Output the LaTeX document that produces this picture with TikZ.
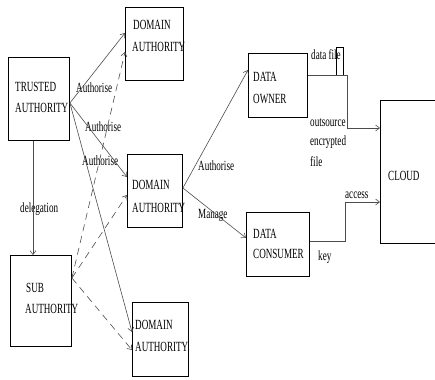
\documentclass[tikz,border=0pt]{standalone}
\usepackage{fontspec}
\setmainfont{Liberation Serif}[FakeStretch=0.65]
\usetikzlibrary{arrows.meta,calc}
\begin{document}
\begin{tikzpicture}[x=1pt,y=-1pt,
  box/.style={draw=black,line width=0.9pt,inner sep=0,anchor=north west},
  lbl/.style={inner sep=0,anchor=base west,font=\fontsize{14}{21}\selectfont},
  conn/.style={draw=black!70,line width=0.6pt,-{Straight Barb[length=4pt,width=6pt]}},
  dconn/.style={conn,dash pattern=on 7pt off 5pt}]
\useasboundingbox (0,0) rectangle (435,379);
% boxes
\node[box,minimum width=61,minimum height=83] (ta) at (8,57) {};
\node[box,minimum width=58,minimum height=73] (da1) at (125,7) {};
\node[box,minimum width=55,minimum height=73] (da2) at (127,154) {};
\node[box,minimum width=61,minimum height=91] (sub) at (10,255) {};
\node[box,minimum width=56,minimum height=74] (da3) at (132,302) {};
\node[box,minimum width=59,minimum height=64] (do) at (248,53) {};
\node[box,minimum width=63,minimum height=64] (dc) at (246,212) {};
\node[inner sep=0,minimum width=55,minimum height=143,anchor=north west] (cloud) at (380,100) {};
\draw[black,line width=0.9pt] (cloud.north east) -- (cloud.north west) -- (cloud.south west) -- (cloud.south east);
\node[box,line width=0.6pt,minimum width=7,minimum height=28] (fr) at (336,47) {};
\draw[line width=1.6pt] (fr.south west) -- (fr.south east);
% texts
\node[lbl] (t1) at (15,92) {TRUSTED};
\node[lbl] (t2) at (15,113) {AUTHORITY};
\node[lbl] (d1a) at (133,30) {DOMAIN};
\node[lbl] (d1b) at (132,52) {AUTHORITY};
\node[lbl] (d2a) at (132,189) {DOMAIN};
\node[lbl] (d2b) at (132,212) {AUTHORITY};
\node[lbl] (s1) at (26,292) {SUB};
\node[lbl] (s2) at (25,313) {AUTHORITY};
\node[lbl] (d3a) at (135,329) {DOMAIN};
\node[lbl] (d3b) at (135,351) {AUTHORITY};
\node[lbl] (o1) at (253,82) {DATA};
\node[lbl] (o2) at (253,104) {OWNER};
\node[lbl] (c1) at (253,238) {DATA};
\node[lbl] (c2) at (253,258) {CONSUMER};
\node[lbl] (cl) at (388,180) {CLOUD};
\node[lbl] (df) at (311,60) {data file};
\node[lbl] (ou1) at (310,127) {outsource};
\node[lbl] (ou2) at (310,146) {encrypted};
\node[lbl] (ou3) at (310,166) {file};
\node[lbl] (ac) at (345,198) {access};
\node[lbl] (ky) at (318,260) {key};
\node[lbl] (a1) at (76,93) {Authorise};
\node[lbl] (a2) at (85,132) {Authorise};
\node[lbl] (a3) at (82,165) {Authorise};
\node[lbl] (dl) at (20,212) {delegation};
\node[lbl] (a4) at (198,170) {Authorise};
\node[lbl] (mg) at (198,218) {Manage};
% connectors
\coordinate (taout) at (ta.east |- 0,103);
\coordinate (subout) at (sub.east |- 0,278);
\draw[conn] (taout) -- (da1.west |- 0,33);
\draw[conn] (taout) -- (da2.west |- 0,177);
\draw[conn] (taout) -- (da3.west |- 0,332);
\draw[dconn] (subout) -- (da1.west |- 0,52);
\draw[dconn] (subout) -- (da2.west |- 0,195);
\draw[dconn] (subout) -- (da3.west |- 0,350);
\draw[conn] (ta.south -| 33,0) -- (sub.north -| 33,0);
\coordinate (da2out) at (da2.east |- 0,188);
\draw[conn] (da2out) -- (do.west |- 0,70);
\draw[conn] (da2out) -- (dc.west |- 0,238);
\draw[conn] (do.east |- 0,75) -- (347,75) -- (347,128) -- (cloud.west |- 0,128);
\draw[conn] (dc.east |- 0,241) -- (345,241) -- (345,202) -- (cloud.west |- 0,202);
\end{tikzpicture}
\end{document}
